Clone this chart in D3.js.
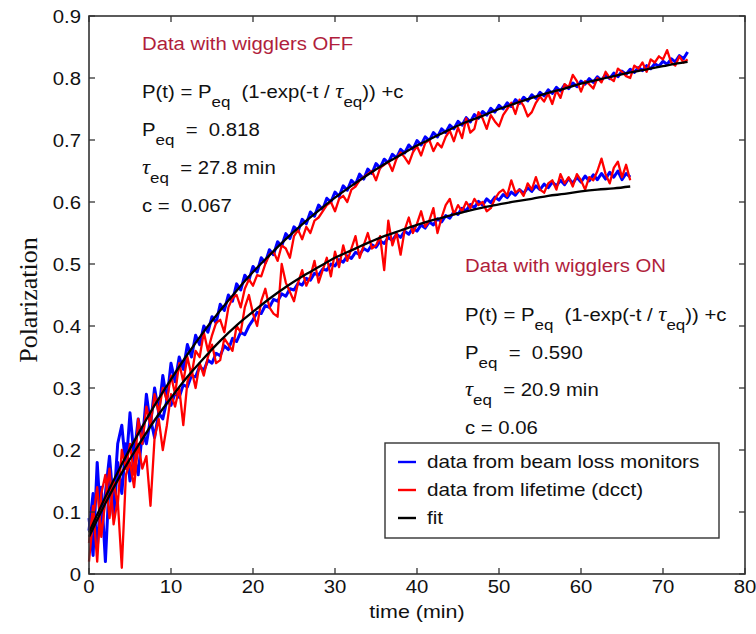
<!DOCTYPE html>
<html><head><meta charset="utf-8">
<script src="https://cdn.jsdelivr.net/npm/d3@7"></script>
<style>body{margin:0;background:#fff}svg{display:block}text{white-space:pre}</style>
</head><body>
<script>
// ---------- data ----------
const xTicks = [0,10,20,30,40,50,60,70,80];
const yTicks = [0,0.1,0.2,0.3,0.4,0.5,0.6,0.7,0.8,0.9];
const yTickLabels = ["0","0.1","0.2","0.3","0.4","0.5","0.6","0.7","0.8","0.9"];
const step = 0.5; // minutes between samples

// wigglers OFF, beam loss monitors (t = 0, 0.5, ... 73)
const offBlue = [.09,.03,.18,.07,.13,.19,.11,.21,.24,.17,.26,.19,.25,.21,.29,.24,.30,.26,.32,.28,
.34,.31,.35,.33,.37,.35,.385,.37,.40,.39,.415,.405,.435,.425,.45,.44,.468,.458,.482,.474,
.496,.487,.51,.502,.523,.515,.536,.529,.549,.541,.56,.553,.572,.565,.584,.577,.595,.588,.606,.6,
.616,.609,.626,.619,.635,.628,.645,.637,.653,.646,.662,.655,.669,.663,.677,.671,.685,.679,.692,.685,
.699,.692,.705,.699,.712,.705,.718,.712,.724,.718,.73,.724,.736,.729,.741,.735,.746,.74,.751,.745,
.756,.75,.76,.754,.765,.759,.769,.763,.773,.767,.777,.771,.781,.775,.785,.779,.789,.783,.792,.786,
.795,.79,.799,.793,.802,.796,.805,.799,.808,.802,.811,.806,.814,.809,.817,.812,.82,.815,.823,.819,
.827,.822,.831,.826,.836,.831,.842];
// wigglers OFF, lifetime (dcct)
const offRed = [.05,.11,.02,.13,.16,.09,.15,.11,.20,.17,.21,.16,.25,.21,.27,.24,.29,.26,.30,.28,
.32,.29,.34,.31,.35,.32,.36,.35,.39,.36,.385,.405,.41,.39,.43,.445,.45,.43,.46,.475,
.465,.482,.48,.50,.515,.52,.505,.53,.525,.51,.545,.555,.54,.56,.55,.57,.575,.585,.595,.60,
.585,.605,.61,.60,.62,.625,.635,.64,.645,.65,.635,.655,.66,.665,.65,.67,.68,.672,.662,.68,
.69,.675,.695,.70,.682,.695,.688,.705,.715,.698,.72,.703,.735,.712,.718,.745,.735,.718,.74,.73,
.722,.74,.75,.76,.742,.765,.755,.738,.745,.76,.77,.762,.775,.758,.78,.768,.79,.785,.805,.795,
.778,.795,.79,.783,.80,.793,.81,.80,.795,.815,.81,.803,.80,.82,.815,.825,.81,.83,.825,.835,
.83,.845,.825,.82,.835,.825,.83];
// wigglers ON, beam loss monitors (t = 0, 0.5, ... 66)
const onBlue = [.07,.13,.04,.14,.02,.16,.09,.18,.13,.21,.15,.19,.16,.23,.21,.25,.22,.26,.25,.28,
.272,.292,.285,.305,.302,.32,.318,.335,.328,.345,.34,.356,.352,.368,.362,.38,.375,.39,.386,.4,
.41,.422,.42,.433,.43,.443,.44,.452,.448,.46,.458,.469,.466,.477,.474,.485,.482,.492,.49,.5,
.497,.507,.503,.513,.509,.519,.515,.525,.521,.531,.527,.537,.533,.543,.538,.548,.543,.553,.548,.558,
.553,.563,.558,.568,.563,.573,.568,.578,.574,.584,.58,.59,.586,.596,.591,.601,.595,.605,.599,.608,
.603,.612,.607,.616,.611,.62,.614,.623,.617,.626,.62,.629,.623,.632,.626,.635,.628,.638,.63,.64,
.632,.642,.634,.644,.636,.646,.637,.648,.64,.65,.636,.646,.64];
// wigglers ON, lifetime (dcct)
const onRed = [.02,.09,.14,.06,.12,.17,.08,.12,.01,.16,.18,.14,.21,.17,.19,.11,.22,.25,.20,.24,
.29,.27,.30,.24,.31,.33,.30,.34,.32,.35,.37,.34,.345,.38,.37,.36,.40,.39,.43,.45,
.42,.40,.44,.46,.43,.42,.415,.50,.47,.455,.44,.47,.49,.465,.48,.505,.47,.49,.51,.48,
.52,.495,.53,.505,.525,.545,.51,.53,.55,.525,.53,.545,.49,.57,.53,.55,.515,.555,.575,.55,
.565,.585,.56,.57,.59,.55,.575,.595,.605,.58,.595,.585,.6,.59,.605,.595,.6,.585,.59,.605,
.615,.62,.61,.635,.615,.62,.61,.63,.62,.64,.62,.615,.63,.635,.62,.645,.63,.64,.625,.645,
.635,.62,.64,.635,.65,.67,.645,.63,.655,.665,.64,.66,.635];
// fit curves read at 2-minute spacing
const fitOffT = [0,2,4,6,8,10,12,14,16,18,20,22,24,26,28,30,32,34,36,38,40,42,44,46,48,50,52,54,56,58,60,62,64,66,68,70,72,73];
const fitOff = [.067,.124,.177,.226,.272,.314,.354,.391,.425,.457,.487,.514,.540,.564,.586,.607,.626,.644,.661,.676,.691,.704,.717,.729,.739,.750,.759,.768,.776,.783,.791,.797,.803,.809,.814,.819,.824,.826];
const fitOnT = [0,2,4,6,8,10,12,14,16,18,20,22,24,26,28,30,32,34,36,38,40,42,44,46,48,50,52,54,56,58,60,62,64,66];
const fitOn = [.060,.114,.163,.207,.248,.284,.318,.348,.376,.401,.423,.444,.463,.480,.495,.510,.522,.534,.545,.554,.563,.571,.578,.585,.591,.596,.601,.605,.610,.613,.617,.620,.622,.625];

const legendLabels = ["data from beam loss monitors","data from lifetime (dcct)","fit"];
const legendColors = ["#0000ff","#ff0000","#000000"];

// ---------- drawing ----------
const W = 756, H = 634;
const svg = d3.select("body").append("svg").attr("width", W).attr("height", H);
const x = d3.scaleLinear().domain([0, 80]).range([89, 745]);
const y = d3.scaleLinear().domain([0, 0.9]).range([574, 16]);
const FONT = "'Liberation Sans', Arial, Helvetica, sans-serif";
const SX = 1.13;

function stext(px, py, size, opts = {}) {
  const g = svg.append("g").attr("transform", `translate(${px},${py}) scale(${opts.sx || SX},1)`);
  return g.append("text").attr("font-family", opts.family || FONT).attr("font-size", size)
    .attr("fill", opts.fill || "#111").attr("text-anchor", opts.anchor || "start");
}

const line = d3.line().x(d => x(d[0])).y(d => y(d[1]));
const toPts = arr => arr.map((v, i) => [i * step, v]);

const plot = svg.append("g");
[[offBlue, "#0000ff", 3], [onBlue, "#0000ff", 3], [offRed, "#ff0000", 2.3], [onRed, "#ff0000", 2.3]]
  .forEach(([arr, c, w]) => plot.append("path").attr("d", line(toPts(arr))).attr("fill", "none")
    .attr("stroke", c).attr("stroke-width", w).attr("stroke-linejoin", "round"));
const fitLine = d3.line().x(d => x(d[0])).y(d => y(d[1])).curve(d3.curveMonotoneX);
[[fitOffT, fitOff], [fitOnT, fitOn]].forEach(([ts, vs]) =>
  plot.append("path").attr("d", fitLine(ts.map((t, i) => [t, vs[i]]))).attr("fill", "none")
    .attr("stroke", "#000").attr("stroke-width", 2.3));

// axes with inward ticks on all sides
const axG = svg.append("g").attr("stroke", "#333");
axG.append("rect").attr("x", 89).attr("y", 16).attr("width", 745 - 89).attr("height", 574 - 16)
  .attr("fill", "none").attr("stroke", "#333").attr("stroke-width", 1.6);
xTicks.forEach(t => {
  axG.append("line").attr("x1", x(t)).attr("x2", x(t)).attr("y1", 574).attr("y2", 568).attr("stroke-width", 1.3);
  axG.append("line").attr("x1", x(t)).attr("x2", x(t)).attr("y1", 16).attr("y2", 22).attr("stroke-width", 1.3);
});
yTicks.forEach(v => {
  axG.append("line").attr("x1", 89).attr("x2", 95).attr("y1", y(v)).attr("y2", y(v)).attr("stroke-width", 1.3);
  axG.append("line").attr("x1", 745).attr("x2", 739).attr("y1", y(v)).attr("y2", y(v)).attr("stroke-width", 1.3);
});
xTicks.forEach(t => stext(x(t), 593, 18, { anchor: "middle" }).text(t));
yTicks.forEach((v, i) => stext(81, y(v) + 6.5, 18, { anchor: "end" }).text(yTickLabels[i]));

// axis titles
stext(417, 618, 19, { anchor: "middle" }).text("time (min)");
svg.append("text").attr("transform", "translate(37,300) rotate(-90)").attr("text-anchor", "middle")
  .attr("font-family", "'Liberation Serif', 'Times New Roman', serif").attr("font-size", 26)
  .attr("fill", "#111").text("Polarization");

// annotation blocks
function block(x0, ys, head, peq, tau, c) {
  stext(x0, ys[0], 18, { fill: "#b01e3c" }).text(head);
  const f = stext(x0, ys[1], 18);
  f.append("tspan").text("P(t) = P");
  f.append("tspan").attr("dy", 9).attr("font-size", 15).text("eq");
  f.append("tspan").attr("dy", -9).text("  (1-exp(-t / ");
  f.append("tspan").attr("font-family", "'Liberation Serif', serif").attr("font-style", "italic").attr("font-size", 20).text("τ");
  f.append("tspan").attr("dy", 9).attr("font-size", 15).text("eq");
  f.append("tspan").attr("dy", -9).text(")) +c");
  const p = stext(x0, ys[2], 18);
  p.append("tspan").text("P");
  p.append("tspan").attr("dy", 9).attr("font-size", 15).text("eq");
  p.append("tspan").attr("dy", -9).text(peq);
  const t = stext(x0, ys[3], 18);
  t.append("tspan").attr("font-family", "'Liberation Serif', serif").attr("font-style", "italic").attr("font-size", 20).text("τ");
  t.append("tspan").attr("dy", 9).attr("font-size", 15).text("eq");
  t.append("tspan").attr("dy", -9).text(tau);
  stext(x0, ys[4], 18).text(c);
}
block(142, [50, 98, 136, 174, 212], "Data with wigglers OFF", "  =  0.818", "  = 27.8 min", "c =  0.067");
block(465, [272, 321, 359, 396, 434], "Data with wigglers ON", "  =  0.590", "  = 20.9 min", "c = 0.06");

// legend
svg.append("rect").attr("x", 385).attr("y", 443).attr("width", 334).attr("height", 95)
  .attr("fill", "#fff").attr("stroke", "#333").attr("stroke-width", 1.4);
legendLabels.forEach((lab, i) => {
  const ly = 462 + i * 28;
  svg.append("line").attr("x1", 398).attr("x2", 416).attr("y1", ly).attr("y2", ly)
    .attr("stroke", legendColors[i]).attr("stroke-width", 2.4);
  stext(427, ly + 6, 18, { sx: 1.15 }).text(lab);
});
</script>
</body></html>
